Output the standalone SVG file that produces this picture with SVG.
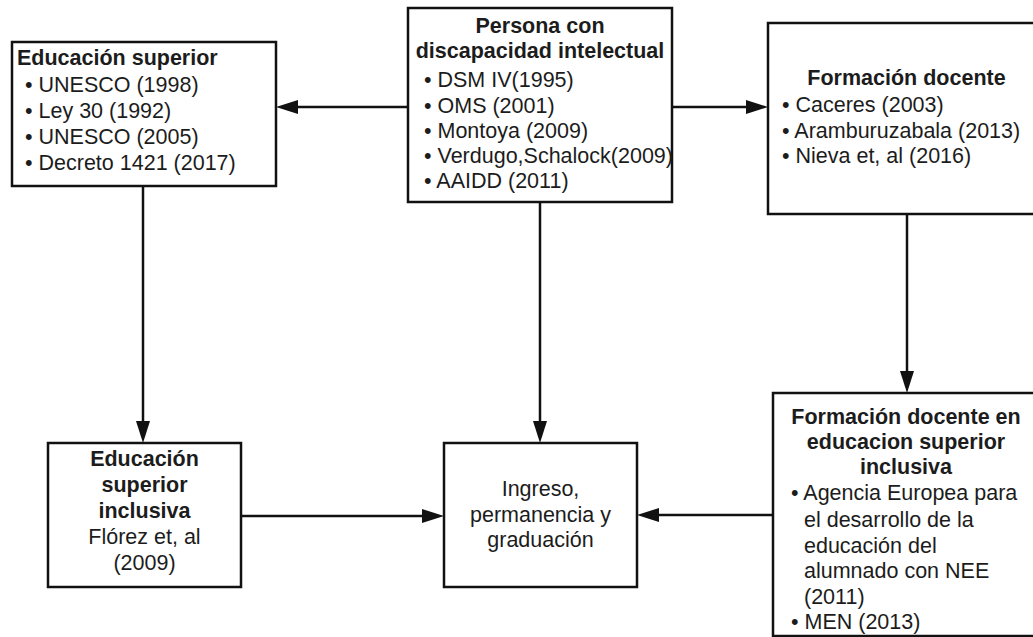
<svg xmlns="http://www.w3.org/2000/svg" width="1033" height="637" viewBox="0 0 1033 637">
<defs>
<style>
.box{fill:#ffffff;stroke:#111111;stroke-width:2.5}
.t{font-family:"Liberation Sans",Arial,sans-serif;font-size:21.5px;fill:#1c1c1c}
.b{font-weight:bold}
.c{text-anchor:middle}
.conn{fill:none;stroke:#111111;stroke-width:2.5}
</style>
<marker id="arr" markerUnits="userSpaceOnUse" markerWidth="24" markerHeight="16" refX="12" refY="7" orient="auto">
<path d="M0,0 L22,7 L0,14 z" fill="#111111"/>
</marker>
</defs>
<rect x="0" y="0" width="1033" height="637" fill="#ffffff"/>
<g id="connectors">
<path class="conn" d="M408,107 L286,107" marker-end="url(#arr)"/>
<path class="conn" d="M672,107 L758,107" marker-end="url(#arr)"/>
<path class="conn" d="M143,186 L143,433" marker-end="url(#arr)"/>
<path class="conn" d="M540,202 L540,433" marker-end="url(#arr)"/>
<path class="conn" d="M907,214 L907,383" marker-end="url(#arr)"/>
<path class="conn" d="M241,516 L434,516" marker-end="url(#arr)"/>
<path class="conn" d="M773,515 L647,515" marker-end="url(#arr)"/>
</g>
<g id="n-educacion-superior">
<rect class="box" x="12" y="42" width="264" height="144"/>
<text class="t b" x="17" y="65">Educación superior</text>
<text class="t" x="25" y="91.5">• UNESCO (1998)</text>
<text class="t" x="25" y="117.5">• Ley 30 (1992)</text>
<text class="t" x="25" y="143.5">• UNESCO (2005)</text>
<text class="t" x="25" y="169.5">• Decreto 1421 (2017)</text>
</g>
<g id="n-persona">
<rect class="box" x="408" y="8" width="264" height="194"/>
<text class="t b c" x="540" y="33">Persona con</text>
<text class="t b c" x="540" y="58">discapacidad intelectual</text>
<text class="t" x="424" y="87">• DSM IV(1995)</text>
<text class="t" x="424" y="113">• OMS (2001)</text>
<text class="t" x="424" y="138">• Montoya (2009)</text>
<text class="t" x="424" y="163">• Verdugo,Schalock(2009)</text>
<text class="t" x="424" y="188">• AAIDD (2011)</text>
</g>
<g id="n-formacion-docente">
<rect class="box" x="768" y="23" width="280" height="191"/>
<text class="t b c" x="906.5" y="85">Formación docente</text>
<text class="t" x="782" y="112">• Caceres (2003)</text>
<text class="t" x="782" y="138">• Aramburuzabala (2013)</text>
<text class="t" x="782" y="163">• Nieva et, al (2016)</text>
</g>
<g id="n-educacion-superior-inclusiva">
<rect class="box" x="48" y="443" width="193" height="144"/>
<text class="t b c" x="144.5" y="466">Educación</text>
<text class="t b c" x="144.5" y="492">superior</text>
<text class="t b c" x="144.5" y="518">inclusiva</text>
<text class="t c" x="144.5" y="544">Flórez et, al</text>
<text class="t c" x="144.5" y="570">(2009)</text>
</g>
<g id="n-ingreso">
<rect class="box" x="444" y="443" width="193" height="144"/>
<text class="t c" x="540.5" y="496">Ingreso,</text>
<text class="t c" x="540.5" y="521.5">permanencia y</text>
<text class="t c" x="540.5" y="547">graduación</text>
</g>
<g id="n-formacion-docente-inclusiva">
<rect class="box" x="773" y="393" width="270" height="243"/>
<text class="t b c" x="906" y="424">Formación docente en</text>
<text class="t b c" x="906" y="449">educacion superior</text>
<text class="t b c" x="906" y="474">inclusiva</text>
<text class="t" x="791" y="500">• Agencia Europea para</text>
<text class="t" x="804" y="526.5">el desarrollo de la</text>
<text class="t" x="804" y="552.5">educación del</text>
<text class="t" x="804" y="578">alumnado con NEE</text>
<text class="t" x="804" y="603.5">(2011)</text>
<text class="t" x="791" y="629">• MEN (2013)</text>
</g>
</svg>
